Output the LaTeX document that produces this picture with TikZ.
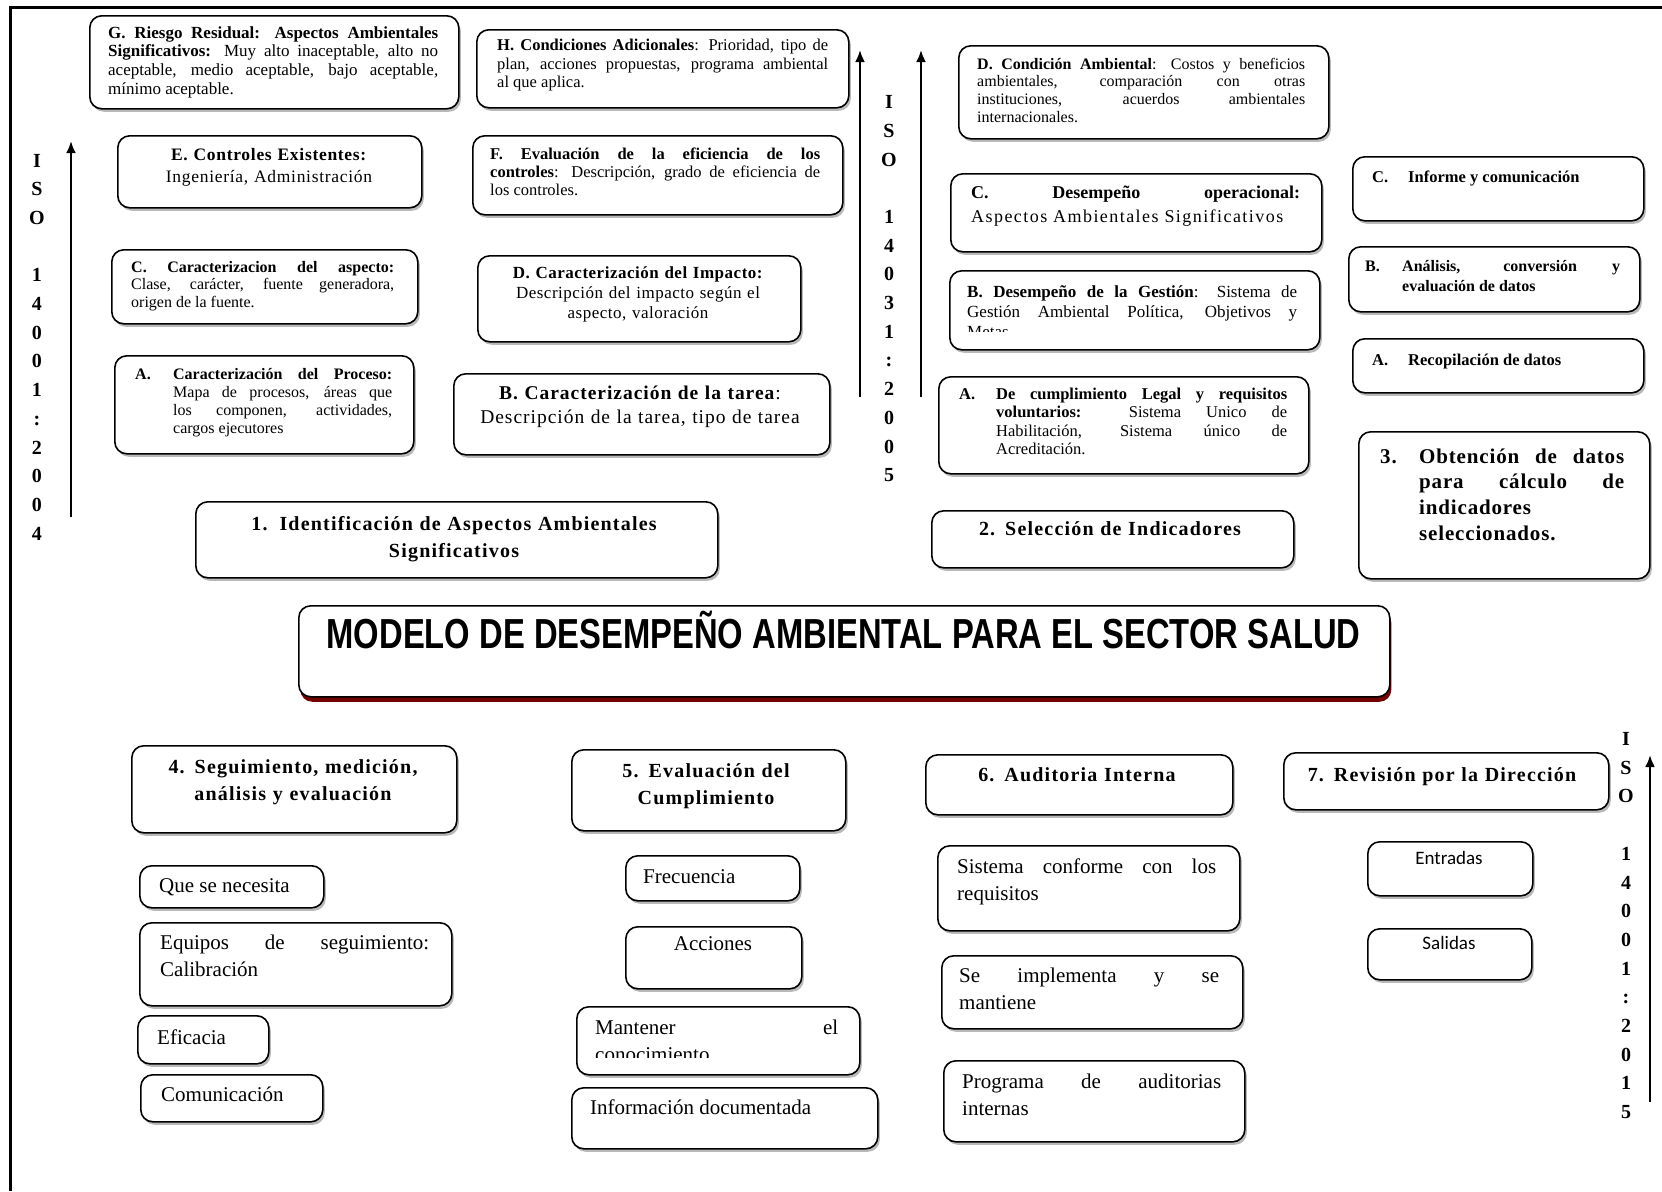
\documentclass[tikz,border=0pt]{standalone}
\usepackage{fontspec}
\setmainfont{Liberation Serif}
\newfontfamily\titlefont[FakeStretch=0.78]{Liberation Sans}
\newfontfamily\calfont{Carlito}
\usetikzlibrary{shadows,arrows.meta}
\tolerance=10000 \hbadness=10000 \hyphenpenalty=10000 \exhyphenpenalty=10000
\begin{document}
\begin{tikzpicture}[x=1pt,y=-1pt,
        roundbox/.style={draw,line width=1.6pt,rounded corners=12pt,fill=white,
            anchor=north west,inner sep=0pt},
        box/.style={roundbox,drop shadow={shadow xshift=2pt,shadow yshift=-3pt,fill=black!55}},
        titlebox/.style={roundbox,drop shadow={shadow xshift=1.5pt,shadow yshift=-5pt,
            fill=red!45!black,opacity=1}},
        txt/.style={anchor=base west,inner sep=0pt,align=justify},
        ctxt/.style={anchor=base,inner sep=0pt,align=center},
        head/.style={font={\fontsize{20}{27}\selectfont\bfseries\addfontfeature{LetterSpace=6}}},
        item/.style={font={\fontsize{21}{27}\selectfont}},
        iso/.style={anchor=base,inner sep=0pt,align=center,text width=20pt,
            font={\fontsize{20}{28.7}\selectfont\bfseries}},
        isoarrow/.style={line width=2.8pt,-{Latex[length=12pt,width=10pt]}}]
    \useasboundingbox (0,0) rectangle (1662,1191);
    \draw[line width=3pt] (10,1191) -- (10,7) -- (1662,7);

    % ISO 14001:2004
    \node[box,minimum width=369pt,minimum height=93pt] (g) at (89,15) {};
    \node[txt,text width=330pt,font=\fontsize{17}{18.8}\selectfont] (g-t) at (108,38)
        {\textbf{G. Riesgo Residual: Aspectos Ambientales}\linebreak\textbf{Significativos:} Muy alto inaceptable, alto no\linebreak aceptable, medio aceptable, bajo aceptable,\linebreak mínimo aceptable.};
    \node[box,minimum width=372pt,minimum height=78pt] (h) at (476,29) {};
    \node[txt,text width=331pt,font=\fontsize{16.5}{18.5}\selectfont] (h-t) at (497,50.5)
        {\textbf{H. Condiciones Adicionales}: Prioridad, tipo de\linebreak plan, acciones propuestas, programa ambiental\linebreak al que aplica.};
    \node[box,minimum width=304pt,minimum height=72pt] (e) at (117,135) {};
    \node[ctxt,text width=290pt,font={\fontsize{17.5}{22}\selectfont\addfontfeature{LetterSpace=4}}] (e-t) at (269,160)
        {\textbf{E. Controles Existentes:}\\Ingeniería, Administración};
    \node[box,minimum width=370pt,minimum height=79pt] (f) at (472,135) {};
    \node[txt,text width=330pt,font=\fontsize{16.5}{18}\selectfont] (f-t) at (490,159.5)
        {\textbf{F. Evaluación de la eficiencia de los}\linebreak\textbf{controles}: Descripción, grado de eficiencia de\linebreak los controles.};
    \node[box,minimum width=306pt,minimum height=74pt] (cl) at (111,249) {};
    \node[txt,text width=263pt,font=\fontsize{16}{17.5}\selectfont] (cl-t) at (131,272)
        {\textbf{C. Caracterizacion del aspecto:}\linebreak Clase, carácter, fuente generadora,\linebreak origen de la fuente.};
    \node[box,minimum width=323pt,minimum height=86pt] (dl) at (477,255) {};
    \node[ctxt,text width=300pt,font={\fontsize{17}{20}\selectfont\addfontfeature{LetterSpace=3}}] (dl-t) at (638,278)
        {\textbf{D. Caracterización del Impacto:}\\Descripción del impacto según el\\aspecto, valoración};
    \node[box,minimum width=299pt,minimum height=98pt] (al) at (114,355) {};
    \node[txt,text width=257pt,font=\fontsize{16}{18}\selectfont] (al-t) at (135,379)
        {\makebox[38pt][l]{\textbf{A.}}\parbox[t]{219pt}{\textbf{Caracterización del Proceso:}\linebreak Mapa de procesos, áreas que\linebreak los componen, actividades,\linebreak cargos ejecutores}};
    \node[box,minimum width=376pt,minimum height=81pt] (bl) at (453,373) {};
    \node[ctxt,text width=360pt,font={\fontsize{19.5}{24.5}\selectfont\addfontfeature{LetterSpace=5}}] (bl-t) at (640,399)
        {\textbf{B. Caracterización de la tarea}:\\Descripción de la tarea, tipo de tarea};
    \node[box,minimum width=522pt,minimum height=76pt] (s1) at (195,501) {};
    \node[ctxt,text width=500pt,head] (s1-t) at (454,530)
        {1.\hspace{0.6em}Identificación de Aspectos Ambientales\\Significativos};

    % ISO 14031:2005
    \node[box,minimum width=370pt,minimum height=93pt] (dm) at (958,45) {};
    \node[txt,text width=328pt,font=\fontsize{16}{17.7}\selectfont] (dm-t) at (977,69)
        {\textbf{D. Condición Ambiental}: Costos y beneficios\linebreak ambientales, comparación con otras\linebreak instituciones, acuerdos ambientales\linebreak internacionales.};
    \node[box,minimum width=371pt,minimum height=78pt] (cm) at (950,173) {};
    \node[txt,text width=329pt,font=\fontsize{18}{24}\selectfont] (cm-t) at (971,198.5)
        {\textbf{C. Desempeño operacional:}\linebreak{\addfontfeature{LetterSpace=8}Aspectos Ambientales Significativos}};
    \node[box,minimum width=370pt,minimum height=79pt] (bm) at (949,270) {};
    \begin{scope}
        \clip (949,270) rectangle (1319,331);
        \node[txt,text width=330pt,font=\fontsize{17}{20}\selectfont] (bm-t) at (967,297)
            {\textbf{B. Desempeño de la Gestión}: Sistema de\linebreak Gestión Ambiental Política, Objetivos y\linebreak Metas};
    \end{scope}
    \node[box,minimum width=370pt,minimum height=97pt] (am) at (938,376) {};
    \node[txt,text width=328pt,font=\fontsize{16.5}{18.4}\selectfont] (am-t) at (959,399.5)
        {\makebox[37pt][l]{\textbf{A.}}\parbox[t]{291pt}{\textbf{De cumplimiento Legal y requisitos}\linebreak\textbf{voluntarios:} Sistema Unico de\linebreak Habilitación, Sistema único de\linebreak Acreditación.}};
    \node[box,minimum width=362pt,minimum height=57pt] (s2) at (931,510) {};
    \node[ctxt,text width=340pt,head] (s2-t) at (1110,535) {2. Selección de Indicadores};

    \node[box,minimum width=291pt,minimum height=64pt] (cr) at (1352,156) {};
    \node[txt,text width=260pt,font=\fontsize{16.5}{20}\selectfont\bfseries] (cr-t) at (1372,182)
        {\makebox[36pt][l]{C.}Informe y comunicación};
    \node[box,minimum width=291pt,minimum height=65pt] (br) at (1348,246) {};
    \node[txt,text width=255pt,font=\fontsize{16}{20}\selectfont\bfseries] (br-t) at (1365,271)
        {\makebox[37pt][l]{B.}\parbox[t]{218pt}{Análisis, conversión y\linebreak evaluación de datos}};
    \node[box,minimum width=291pt,minimum height=54pt] (ar) at (1352,338) {};
    \node[txt,text width=260pt,font=\fontsize{16.5}{20}\selectfont\bfseries] (ar-t) at (1372,365)
        {\makebox[36pt][l]{A.}Recopilación de datos};
    \node[box,minimum width=291pt,minimum height=147pt] (s3) at (1358,431) {};
    \node[txt,text width=244pt,font={\fontsize{21}{25.8}\selectfont\bfseries\addfontfeature{LetterSpace=4}}] (s3-t) at (1380,463)
        {\makebox[39pt][l]{3.}\parbox[t]{205pt}{Obtención de datos\linebreak para cálculo de\linebreak indicadores\linebreak seleccionados.}};

    % titulo
    \node[titlebox,minimum width=1091pt,minimum height=91pt] (title) at (298,605) {};
    \node[anchor=base,inner sep=0pt,font=\titlefont\bfseries\fontsize{42}{48}\selectfont] (title-t) at (843.5,648)
        {MODELO DE DESEMPEÑO AMBIENTAL PARA EL SECTOR SALUD};

    % ISO 14001:2015
    \node[box,minimum width=325pt,minimum height=87pt] (s4) at (131,745) {};
    \node[ctxt,text width=310pt,head] (s4-t) at (293,773) {4. Seguimiento, medición,\\análisis y evaluación};
    \node[box,minimum width=274pt,minimum height=81pt] (s5) at (571,749) {};
    \node[ctxt,text width=260pt,head] (s5-t) at (706,777) {5. Evaluación del\\Cumplimiento};
    \node[box,minimum width=307pt,minimum height=60pt] (s6) at (925,754) {};
    \node[ctxt,text width=290pt,head] (s6-t) at (1077,781) {6. Auditoria Interna};
    \node[box,minimum width=325pt,minimum height=57pt] (s7) at (1283,752) {};
    \node[ctxt,text width=310pt,head] (s7-t) at (1442,781) {7. Revisión por la Dirección};

    \node[box,minimum width=184pt,minimum height=42pt] (q1) at (139,865) {};
    \node[txt,item] (q1-t) at (159,892) {Que se necesita};
    \node[box,minimum width=312pt,minimum height=83pt] (q2) at (139,922) {};
    \node[txt,item,text width=269pt] (q2-t) at (160,949) {Equipos de seguimiento:\linebreak Calibración};
    \node[box,minimum width=131pt,minimum height=48pt] (q3) at (137,1015) {};
    \node[txt,item] (q3-t) at (157,1044) {Eficacia};
    \node[box,minimum width=182pt,minimum height=47pt] (q4) at (140,1074) {};
    \node[txt,item] (q4-t) at (161,1101) {Comunicación};

    \node[box,minimum width=174pt,minimum height=45pt] (v1) at (625,855) {};
    \node[txt,item] (v1-t) at (643,883) {Frecuencia};
    \node[box,minimum width=176pt,minimum height=62pt] (v2) at (625,926) {};
    \node[ctxt,item] (v2-t) at (713,950) {Acciones};
    \node[box,minimum width=283pt,minimum height=68pt] (v3) at (576,1006) {};
    \begin{scope}
        \clip (576,1006) rectangle (859,1057);
        \node[txt,item,text width=243pt] (v3-t) at (595,1034) {Mantener el\linebreak conocimiento};
    \end{scope}
    \node[box,minimum width=306pt,minimum height=61pt] (v4) at (571,1087) {};
    \node[txt,item] (v4-t) at (590,1114) {Información documentada};

    \node[box,minimum width=302pt,minimum height=85pt] (u1) at (937,845) {};
    \node[txt,item,text width=259pt] (u1-t) at (957,873) {Sistema conforme con los\linebreak requisitos};
    \node[box,minimum width=301pt,minimum height=73pt] (u2) at (941,955) {};
    \node[txt,item,text width=260pt] (u2-t) at (959,982) {Se implementa y se\linebreak mantiene};
    \node[box,minimum width=301pt,minimum height=81pt] (u3) at (943,1060) {};
    \node[txt,item,text width=259pt] (u3-t) at (962,1088) {Programa de auditorias\linebreak internas};

    \node[box,minimum width=165pt,minimum height=54pt] (r1) at (1367,841) {};
    \node[ctxt,font=\calfont\fontsize{19}{22}\selectfont] (r1-t) at (1449,864) {Entradas};
    \node[box,minimum width=164pt,minimum height=51pt] (r2) at (1367,928) {};
    \node[ctxt,font=\calfont\fontsize{19}{22}\selectfont] (r2-t) at (1449,949) {Salidas};

    % normas
    \node[iso] (iso1) at (37,167) {I\\S\\O\\[28.7pt]1\\4\\0\\0\\1\\:\\2\\0\\0\\4};
    \node[iso] (iso2) at (889,108.6) {I\\S\\O\\[28.7pt]1\\4\\0\\3\\1\\:\\2\\0\\0\\5};
    \node[iso] (iso3) at (1626,745.5) {I\\S\\O\\[28.7pt]1\\4\\0\\0\\1\\:\\2\\0\\1\\5};
    \coordinate (a1s) at (71,517);
    \coordinate (a1e) at (71,141);
    \coordinate (a2s) at (860,397);
    \coordinate (a2e) at (860,50);
    \coordinate (a3s) at (921,397);
    \coordinate (a3e) at (921,50);
    \coordinate (a4s) at (1650,1102);
    \coordinate (a4e) at (1650,755);
    \draw[isoarrow] (a1s) -- (a1e);
    \draw[isoarrow] (a2s) -- (a2e);
    \draw[isoarrow] (a3s) -- (a3e);
    \draw[isoarrow] (a4s) -- (a4e);
\end{tikzpicture}
\end{document}
